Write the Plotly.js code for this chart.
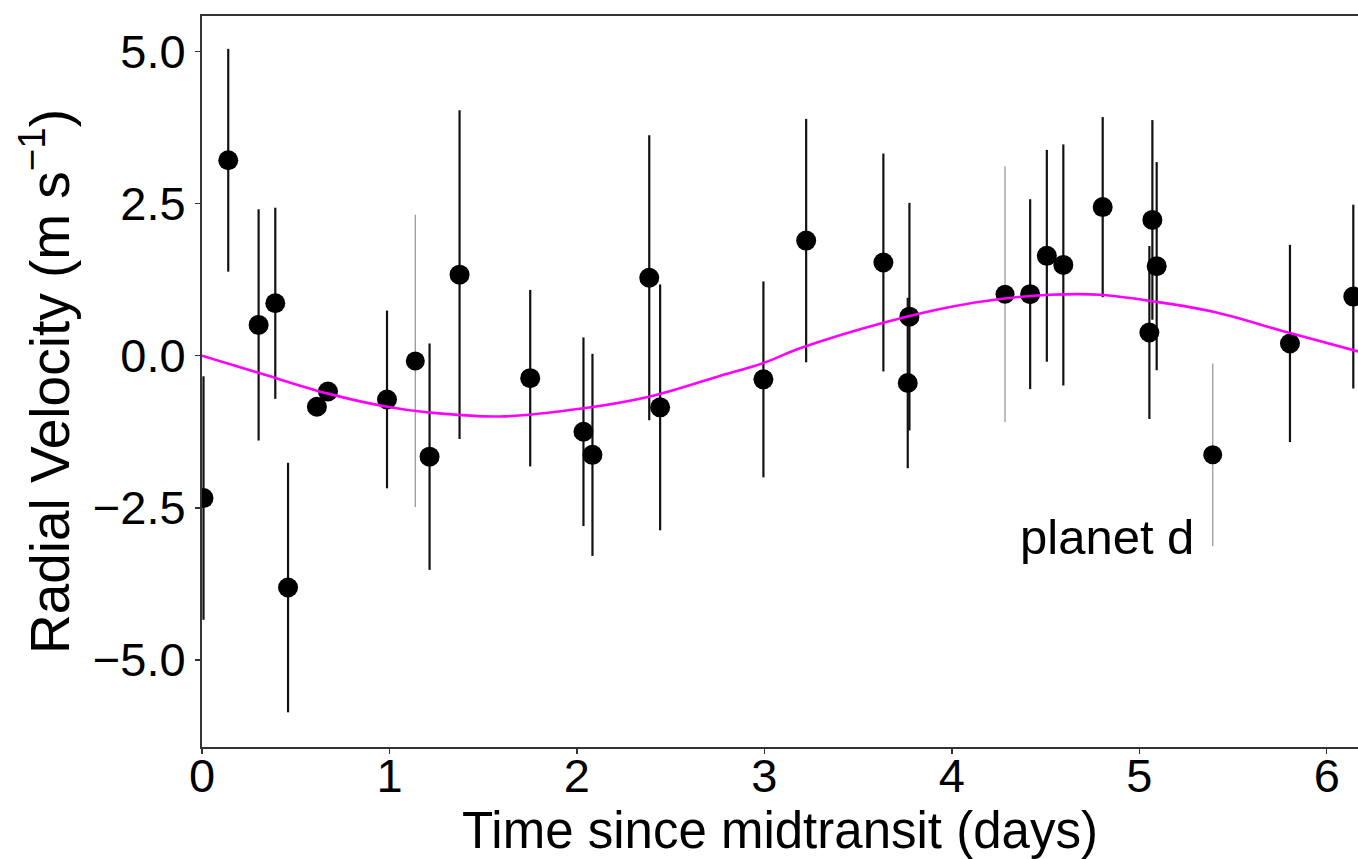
<!DOCTYPE html>
<html>
<head>
<meta charset="utf-8">
<script src="https://cdn.plot.ly/plotly-3.0.1.min.js"></script>
<style>html,body{margin:0;padding:0;background:#fff;}#chart{width:1358px;height:859px;}</style>
</head>
<body>
<div id="chart"></div>
<script>
// Measured radial velocities (dark error bars)
const timeDays = [0.008, 0.14, 0.302, 0.391, 0.459, 0.613, 0.672, 0.987, 1.214, 1.374, 1.751, 2.035, 2.083, 2.386, 2.444, 2.995, 3.223, 3.635, 3.774, 3.765, 4.418, 4.507, 4.595, 4.805, 5.07, 5.093, 5.054, 5.804, 6.142];
const rv       = [-2.34, 3.21, 0.505, 0.86, -3.81, -0.84, -0.59, -0.72, -1.66, 1.33, -0.37, -1.25, -1.63, 1.28, -0.85, -0.39, 1.89, 1.53, 0.64, -0.45, 1.01, 1.64, 1.49, 2.44, 2.23, 1.47, 0.38, 0.20, 0.97];
const rvErr    = [2.0, 1.83, 1.9, 1.57, 2.05, 0, 0, 1.46, 1.86, 2.7, 1.45, 1.55, 1.66, 2.34, 2.02, 1.61, 2.0, 1.79, 1.87, 1.4, 1.56, 1.74, 1.98, 1.48, 1.64, 1.71, 1.42, 1.62, 1.51];

// Measurements drawn with faint error bars
const timeDaysFaint = [1.138, 4.284, 5.392];
const rvFaint       = [-0.087, 1.01, -1.63];
const rvErrFaint    = [2.4, 2.1, 1.5];

// Model curve
const modelTime = [0, 0.31, 0.667, 0.987, 1.2, 1.59, 2.035, 2.39, 2.75, 3.0, 3.19, 3.635, 3.99, 4.258, 4.524, 4.79, 5.076, 5.395, 5.804, 6.167];
const modelRv   = [0, -0.29, -0.62, -0.84, -0.93, -1.0, -0.865, -0.67, -0.345, -0.115, 0.12, 0.54, 0.80, 0.93, 1.0, 1.0, 0.89, 0.72, 0.37, 0.07];

const xTickVals = [0, 1, 2, 3, 4, 5, 6];
const xTickText = ['0', '1', '2', '3', '4', '5', '6'];
const yTickVals = [-5, -2.5, 0, 2.5, 5];
const yTickText = ['\u22125.0', '\u22122.5', '0.0', '2.5', '5.0'];

const FONT = 'Liberation Sans, Arial, Helvetica, sans-serif';

const traces = [
  {
    x: timeDaysFaint, y: rvFaint, type: 'scatter', mode: 'markers',
    marker: {color: '#000', size: 19},
    error_y: {type: 'data', array: rvErrFaint, visible: true, color: '#9a9a9a', thickness: 1.3, width: 0},
    hoverinfo: 'skip'
  },
  {
    x: timeDays, y: rv, type: 'scatter', mode: 'markers',
    marker: {color: '#000', size: 20},
    error_y: {type: 'data', array: rvErr, visible: true, color: '#111', thickness: 2.2, width: 0},
    hoverinfo: 'skip'
  },
  {
    x: modelTime, y: modelRv, type: 'scatter', mode: 'lines',
    line: {color: '#ff00ff', width: 2.6, shape: 'spline', smoothing: 1},
    hoverinfo: 'skip'
  }
];

const layout = {
  width: 1358, height: 859,
  margin: {l: 202, r: 0, t: 16, b: 112, pad: 0},
  paper_bgcolor: '#fff', plot_bgcolor: '#fff',
  showlegend: false,
  font: {family: FONT, color: '#000'},
  xaxis: {
    range: [0, 6.167], showgrid: false, zeroline: false,
    showline: true, linecolor: '#333', linewidth: 2, mirror: true,
    ticks: 'outside', ticklen: 5, tickwidth: 1.5, tickcolor: '#333',
    tickvals: xTickVals, ticktext: xTickText, ticklabelstandoff: -18,
    tickfont: {family: FONT, size: 47, color: '#000'},
    title: {text: 'Time since midtransit (days)', font: {family: FONT, size: 51, color: '#000'}, standoff: 0}
  },
  yaxis: {
    range: [-6.43, 5.58], showgrid: false, zeroline: false,
    showline: true, linecolor: '#333', linewidth: 2, mirror: false,
    ticks: 'outside', ticklen: 5, tickwidth: 1.5, tickcolor: '#333',
    tickvals: yTickVals, ticktext: yTickText,
    tickfont: {family: FONT, size: 47, color: '#000'},
    title: {text: 'Radial Velocity (m s<sup>\u22121</sup>)', font: {family: FONT, size: 55, color: '#000'}, standoff: 6}
  },
  annotations: [{
    x: 4.83, y: -2.98, xref: 'x', yref: 'y', text: 'planet d', showarrow: false,
    font: {family: FONT, size: 49, color: '#000'}
  }]
};

Plotly.newPlot('chart', traces, layout, {staticPlot: true, displayModeBar: false});
</script>
</body>
</html>
